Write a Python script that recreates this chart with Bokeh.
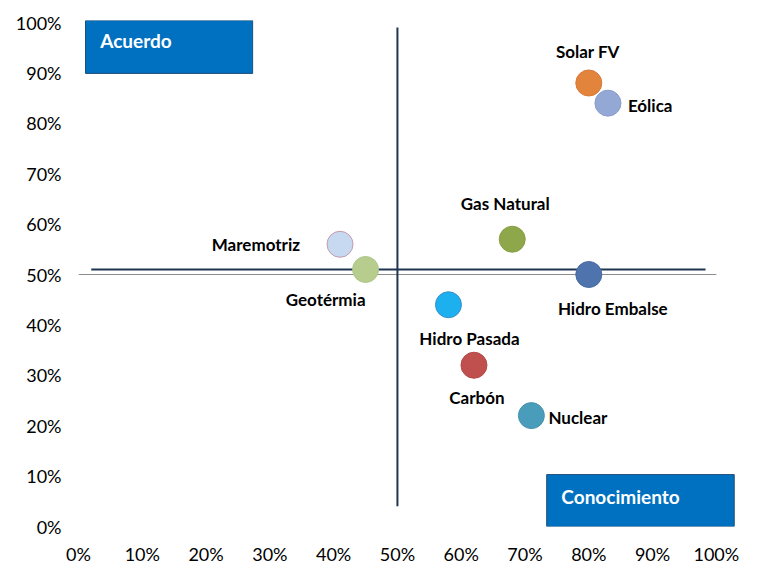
from bokeh.plotting import figure
from bokeh.models import ColumnDataSource, FixedTicker, Range1d
from bokeh.core.properties import value
from bokeh.embed import file_html
from bokeh.resources import INLINE

# ---- data ----
names = ["Solar FV", "Eólica", "Gas Natural", "Maremotriz", "Geotérmia",
         "Hidro Embalse", "Hidro Pasada", "Carbón", "Nuclear"]
conocimiento = [80, 83, 68, 41, 45, 80, 58, 62, 71]
acuerdo = [88, 84, 57, 56, 51, 50, 44, 32, 22]
tick_values = [0, 10, 20, 30, 40, 50, 60, 70, 80, 90, 100]
tick_labels = ["0%", "10%", "20%", "30%", "40%", "50%", "60%", "70%", "80%", "90%", "100%"]
box_titles = ["Acuerdo", "Conocimiento"]

# ---- styles ----
fills = ["#E2843C", "#94A8D5", "#8EA74A", "#C6D9F1", "#B7CD8E",
         "#4E73AD", "#1DB0EF", "#C0504D", "#4A9DBA"]
lines = ["#D9793A", "#8A9DC9", "#86A045", "#C49AAE", "#AFC689",
         "#466BA3", "#3A8FC8", "#B24A48", "#4493AE"]
label_dx = [-1, 20, -7, -40, 0, 24, 21, 3, 17]
label_dy = [-31, 2, -36, 0, 30, 34, 34, 32, 2]
label_align = ["center", "left", "center", "right", "right",
               "center", "center", "center", "left"]

FONT = "Lato"

p = figure(width=747, height=567, output_backend="svg", toolbar_location=None,
           x_range=Range1d(0, 103), y_range=Range1d(0, 100.4),
           min_border_left=78, min_border_right=12, min_border_top=20,
           min_border_bottom=40)
p.outline_line_color = None
p.grid.visible = False

# quadrant boxes
p.quad(left=[1.1, 73.4], right=[27.3, 102.8], top=[100.4, 10.3], bottom=[89.9, 0],
       fill_color="#0070C0", line_color="#1F4E79", line_width=1)
p.text(x=[3.4, 75.7], y=[96.5, 5.9], text=box_titles, text_color="white",
       text_font=value(FONT), text_font_style="bold", text_font_size="19px",
       text_baseline="middle", text_align="left")

# axis-crossing line (thin gray) and the two dark quadrant lines
p.segment(x0=[0], y0=[50], x1=[100], y1=[50], line_color="#8C8C8C", line_width=1)
p.segment(x0=[2, 50], y0=[51, 99], x1=[98.3, 50], y1=[51, 4],
          line_color="#1F3550", line_width=2)

src = ColumnDataSource(dict(x=conocimiento, y=acuerdo, name=names, fill=fills,
                            line=lines, dx=label_dx, dy=label_dy, align=label_align))
p.scatter("x", "y", source=src, size=26, fill_color="fill", line_color="line",
          line_width=1)
p.text("x", "y", text="name", source=src, x_offset="dx", y_offset="dy",
       text_align="align", text_baseline="middle", text_font=value(FONT),
       text_font_style="bold", text_font_size="17px", text_color="#000000")

for ax in (p.xaxis, p.yaxis):
    ax.axis_line_color = None
    ax.major_tick_line_color = None
    ax.minor_tick_line_color = None
    ax.major_tick_in = 0
    ax.major_tick_out = 0
    ax.major_label_text_font = FONT
    ax.major_label_text_font_size = "18px"
    ax.major_label_text_color = "#000000"

p.xaxis.ticker = FixedTicker(ticks=tick_values)
p.yaxis.ticker = FixedTicker(ticks=tick_values)
overrides = {v: lab for v, lab in zip(tick_values, tick_labels)}
p.xaxis.major_label_overrides = overrides
p.yaxis.major_label_overrides = overrides
p.xaxis.major_label_standoff = 16
p.yaxis.major_label_standoff = 17

open("out.html", "w").write(file_html(p, INLINE))
